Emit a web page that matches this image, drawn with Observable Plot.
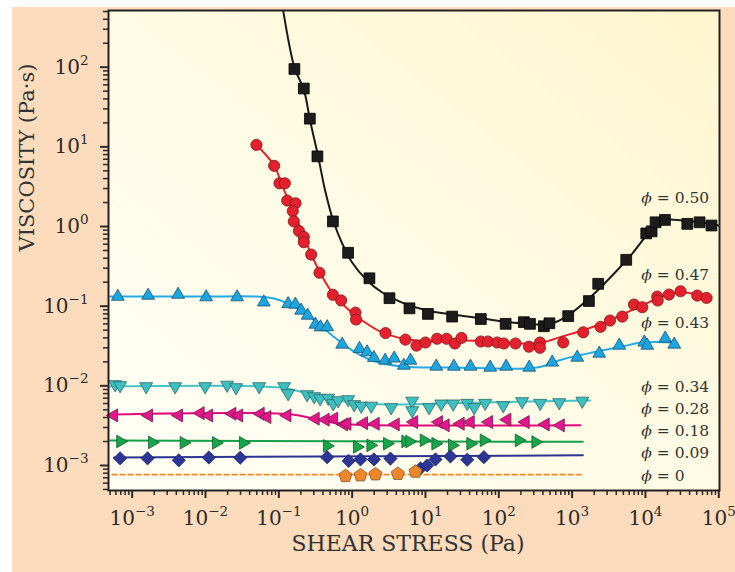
<!DOCTYPE html>
<html><head><meta charset="utf-8">
<script src="https://cdn.jsdelivr.net/npm/d3@7"></script>
<script src="https://cdn.jsdelivr.net/npm/@observablehq/plot@0.6"></script>
<style>
html,body{margin:0;padding:0;background:#fff;}
#wrap{position:relative;width:735px;height:572px;overflow:hidden;}
#peach{position:absolute;left:12px;top:7px;right:0;bottom:0;background:#fcdcbc;}
#chart{position:absolute;left:0;top:0;}
</style></head><body>
<div id="wrap"><div id="peach"></div><div id="chart"></div></div>
<script>
// ---------- data (shear stress in Pa, viscosity in Pa·s) ----------
const stress050 = [0.163,0.219,0.265,0.336,0.546,0.881,1.72,3.23,6.05,10.8,23.1,56.9,124,220,266,412,490,885,1695,2270,5470,10250,12130,13750,18450,37200,54700,79500];
const visc050   = [95,54,22.6,7.6,1.16,0.468,0.224,0.126,0.094,0.080,0.074,0.069,0.060,0.063,0.060,0.056,0.061,0.075,0.116,0.191,0.382,0.82,0.87,1.13,1.21,1.08,1.13,1.03];
const fitStress050 = [0.1075,0.1145,0.162,0.221,0.267,0.344,0.428,0.551,0.731,1.0,1.60,2.57,4.81,10.55,23.1,59.4,152,391,626,1002,1880,3525,6610,10590,14490,19860,31770,59600,100000];
const fitVisc050   = [726,513,101.7,50.8,21.4,7.55,2.83,1.19,0.612,0.353,0.210,0.1486,0.111,0.0883,0.0787,0.0701,0.0624,0.0589,0.0643,0.0834,0.136,0.243,0.458,0.794,1.06,1.22,1.19,1.12,1.03];

const stress047 = [0.0495,0.0863,0.102,0.121,0.130,0.169,0.155,0.160,0.188,0.219,0.219,0.276,0.358,0.546,0.708,1.11,1.13,2.85,5.33,7.54,10.0,14.4,19.4,25.2,31.0,56.9,71.0,95.1,117,169,258,364,364,757,1417,2440,3280,4830,6970,9040,14490,14700,20900,30100,50900,68200];
const visc047   = [10.6,5.78,3.49,3.49,2.12,1.96,1.56,1.16,0.88,0.74,0.635,0.445,0.263,0.139,0.118,0.083,0.068,0.046,0.038,0.032,0.035,0.039,0.039,0.034,0.040,0.036,0.036,0.035,0.034,0.034,0.031,0.035,0.030,0.035,0.047,0.055,0.066,0.074,0.105,0.097,0.132,0.118,0.140,0.154,0.136,0.127];
const fitStress047 = [0.0490,0.0863,0.111,0.152,0.208,0.285,0.390,0.533,0.855,1.37,2.57,4.81,12.3,31.7,81.3,208,391,733,1374,2575,4830,9040,16950,31770,67500];
const fitVisc047   = [10.7,5.82,3.27,1.68,0.841,0.420,0.236,0.149,0.0936,0.0662,0.0468,0.0394,0.0361,0.0371,0.0361,0.0340,0.0350,0.0417,0.0496,0.0607,0.0787,0.102,0.132,0.149,0.132];

const stress043 = [6.36e-4,1.65e-3,4.23e-3,0.0102,0.0270,0.0624,0.134,0.168,0.2015,0.247,0.316,0.370,0.456,0.731,1.26,1.60,1.98,2.82,3.74,5.07,6.24,14.0,24.4,41.1,76.3,126,260,535,1175,2345,4395,9630,10590,18630,24700];
const visc043   = [0.132,0.136,0.140,0.130,0.130,0.112,0.1066,0.105,0.0883,0.0764,0.0589,0.0545,0.0548,0.0331,0.0292,0.0265,0.0225,0.0208,0.0221,0.0180,0.0208,0.0175,0.0175,0.0175,0.0170,0.0175,0.0170,0.0197,0.0227,0.0255,0.0321,0.0351,0.0321,0.0394,0.0331];
const fitStress043 = [4.99e-4,9.0e-3,0.0506,0.0863,0.152,0.285,0.533,1.0,1.87,4.81,23.1,334,733,1880,4830,9040,24700];
const fitVisc043   = [0.132,0.132,0.132,0.125,0.102,0.0701,0.0429,0.0278,0.0208,0.0175,0.0170,0.0170,0.0214,0.0262,0.0312,0.0351,0.0351];

const stress034 = [5.85e-4,6.84e-4,1.55e-3,3.85e-3,9.89e-3,0.0197,0.0261,0.0539,0.118,0.134,0.243,0.303,0.366,0.471,0.551,0.644,0.882,1.065,1.33,1.82,3.41,6.59,6.59,11.2,16.4,23.9,37.1,46.2,65.2,115,208,367,667,1374];
const visc034   = [0.01042,0.01012,0.00983,0.00983,0.00983,0.01026,0.00955,0.00983,0.00983,0.00803,0.00780,0.00736,0.00695,0.00705,0.00601,0.00656,0.00675,0.00585,0.00560,0.00560,0.00536,0.00647,0.00491,0.00536,0.00596,0.00596,0.00607,0.00536,0.00607,0.00568,0.00637,0.00607,0.00619,0.00647];
const fitStress034 = [4.99e-4,0.0592,0.130,0.243,0.533,1.37,4.81,59.4,1750];
const fitVisc034   = [0.00983,0.00983,0.00928,0.00803,0.00675,0.00601,0.00585,0.00619,0.00656];

const stress028 = [5.61e-4,1.68e-3,4.32e-3,8.52e-3,0.0111,0.0231,0.0285,0.0561,0.0692,0.130,0.316,0.432,0.563,0.771,0.855,1.44,2.08,3.90,6.95,15.2,18.7,30.0,41.1,73.2,130,231,433,695];
const visc028   = [0.00425,0.00425,0.00425,0.00454,0.00425,0.00446,0.00425,0.00446,0.00405,0.00425,0.00387,0.00376,0.00387,0.00328,0.00334,0.00340,0.00334,0.00328,0.00351,0.00351,0.00319,0.00334,0.00351,0.00351,0.00376,0.00351,0.00328,0.00319];
const fitStress028 = [4.99e-4,0.152,0.285,0.533,1.0,1290];
const fitVisc028   = [0.00438,0.00438,0.00390,0.00347,0.00328,0.00319];

const stress018 = [6.90e-4,1.87e-3,5.06e-3,0.01395,0.0326,0.456,1.17,1.78,3.00,5.33,6.05,9.51,13.7,23.1,41.1,62.6,188,317];
const visc018   = [0.00200,0.00195,0.00193,0.00192,0.00192,0.00176,0.00171,0.00179,0.00188,0.00200,0.00200,0.00207,0.00188,0.00179,0.00188,0.00207,0.00207,0.00197];
const fitStress018 = [4.99e-4,1400];
const fitVisc018   = [0.00206,0.00198];

const stress009 = [6.84e-4,1.62e-3,4.32e-3,0.0111,0.0297,0.456,0.896,1.30,1.98,3.33,8.55,10.55,13.7,21.9,37.1,62.6];
const visc009   = [0.00123,0.00123,0.00116,0.00126,0.00125,0.00127,0.00114,0.00119,0.00119,0.00122,0.00092,0.00100,0.00119,0.00130,0.00118,0.00127];
const fitStress009 = [5.66e-4,1400];
const fitVisc009   = [0.00126,0.00134];

const stress000 = [0.810,1.30,2.08,4.20,7.31];
const visc000   = [0.000751,0.000767,0.000789,0.000800,0.000851];
const fitStress000 = [5.32e-4,1417];
const fitVisc000   = [0.000767,0.000767];

const labelText = ["\u03D5 = 0.50","\u03D5 = 0.47","\u03D5 = 0.43","\u03D5 = 0.34","\u03D5 = 0.28","\u03D5 = 0.18","\u03D5 = 0.09","\u03D5 = 0"];
const labelViscosity = [2.31,0.243,0.0607,0.00955,0.00506,0.00268,0.00142,0.00073];
const labelStress = [8770,8770,8770,8770,8770,8770,8770,8770];

const xMajorTicks = [1e-3,1e-2,1e-1,1e0,1e1,1e2,1e3,1e4,1e5];
const yMajorTicks = [1e-3,1e-2,1e-1,1e0,1e1,1e2];
const xTitle = "SHEAR STRESS (Pa)";
const yTitle = "VISCOSITY (Pa\u00B7s)";

// ---------- helpers ----------
const pts = (xs, ys) => xs.map((x, i) => ({x, y: ys[i]}));
const minorTicks = (lo, hi) => { const out = []; for (let k = -5; k <= 5; k++) for (let m = 2; m <= 9; m++) { const v = m * Math.pow(10, k); if (v >= lo && v <= hi) out.push(v); } return out; };
const xDomain = [Math.pow(10, -3.323), Math.pow(10, 5.01)];
const yDomain = [Math.pow(10, -3.314), Math.pow(10, 2.712)];

function poly(p, oy = 0) {
  return {draw(c, s) { const r = Math.sqrt(s / Math.PI); p.forEach(([a, b], i) => i ? c.lineTo(a * r, (b + oy) * r) : c.moveTo(a * r, (b + oy) * r)); c.closePath(); }};
}
const sq = {draw(c, s) { const r = Math.sqrt(s / Math.PI); c.rect(-r, -r, 2 * r, 2 * r); }};
const triUp = poly([[0,-1],[0.866,0.5],[-0.866,0.5]]);
const triDown = poly([[0,1],[0.866,-0.5],[-0.866,-0.5]]);
const triLeft = poly([[-1,0],[0.5,-0.866],[0.5,0.866]]);
const triRight = poly([[1,0],[-0.5,-0.866],[-0.5,0.866]]);
const diamond = poly([[0,-1],[1,0],[0,1],[-1,0]]);
const pentagon = poly([0,1,2,3,4].map(k => [Math.cos(-Math.PI/2 + k*2*Math.PI/5), Math.sin(-Math.PI/2 + k*2*Math.PI/5)]), 0.095);

const series = [
  {p: pts(stress050, visc050), f: pts(fitStress050, fitVisc050), line: "#1a1a1a", fill: "#1c1c1c", edge: "#000", sym: sq, r: 5.4},
  {p: pts(stress047, visc047), f: pts(fitStress047, fitVisc047), line: "#e8232d", fill: "#e5202e", edge: "#7a1a1a", sym: "circle", r: 5.6},
  {p: pts(stress043, visc043), f: pts(fitStress043, fitVisc043), line: "#22aae6", fill: "#1ca6df", edge: "#1d4f6f", sym: triUp, r: 7.4},
  {p: pts(stress034, visc034), f: pts(fitStress034, fitVisc034), line: "#46c3c6", fill: "#3ebfc0", edge: "#2f6868", sym: triDown, r: 7.5},
  {p: pts(stress028, visc028), f: pts(fitStress028, fitVisc028), line: "#e5087f", fill: "#e3168c", edge: "#6e1d48", sym: triLeft, r: 7.5},
  {p: pts(stress018, visc018), f: pts(fitStress018, fitVisc018), line: "#12a04a", fill: "#17a54b", edge: "#1b5a32", sym: triRight, r: 7.3},
  {p: pts(stress009, visc009), f: pts(fitStress009, fitVisc009), line: "#2b3493", fill: "#2d3696", edge: "#1c2160", sym: diamond, r: 6.6},
  {p: pts(stress000, visc000), f: pts(fitStress000, fitVisc000), line: "#f28a27", fill: "#f0862a", edge: "#7a5a3a", sym: pentagon, r: 6.9, dash: "5,3"}
];

const supFmt = d => "10^" + Math.round(Math.log10(d));

const marks = [Plot.frame({fill: "url(#bggrad)", stroke: "none"})];
series.forEach(s => marks.push(Plot.line(s.f, {x: "x", y: "y", stroke: s.line, strokeWidth: s.dash ? 1.6 : 2, strokeDasharray: s.dash, curve: "catmull-rom", clip: true})));
series.forEach(s => marks.push(Plot.dot(s.p, {x: "x", y: "y", symbol: s.sym, r: s.r, fill: s.fill, stroke: s.edge, strokeWidth: 0.8})));
marks.push(
  Plot.text(labelText, {x: (d, i) => labelStress[i], y: (d, i) => labelViscosity[i], text: d => d, textAnchor: "start", fontSize: 15.5, fill: "#333"}),
  Plot.axisX({ticks: minorTicks(xDomain[0], xDomain[1]), tickSize: 5, strokeWidth: 1.5, tickFormat: () => "", label: null}),
  Plot.axisX({ticks: xMajorTicks, tickSize: 8, tickPadding: 12, strokeWidth: 2, tickFormat: supFmt, label: null, fontSize: 20}),
  Plot.axisY({ticks: minorTicks(yDomain[0], yDomain[1]), tickSize: 5, strokeWidth: 1.5, tickFormat: () => "", label: null}),
  Plot.axisY({ticks: yMajorTicks, tickSize: 8, tickPadding: 12, strokeWidth: 2, tickFormat: supFmt, label: null, fontSize: 20}),
  Plot.text([xTitle], {frameAnchor: "bottom", dy: 60, dx: -6, text: d => d, fontSize: 22, fill: "#333"}),
  Plot.text([yTitle], {frameAnchor: "left", dx: -81, dy: 1, rotate: -90, text: d => d, fontSize: 21, fill: "#333"}),
  Plot.frame({stroke: "#222", strokeWidth: 2})
);

const plot = Plot.plot({
  width: 735, height: 572,
  marginLeft: 108, marginRight: 16, marginTop: 10, marginBottom: 82,
  style: {background: "transparent", fontFamily: "'DejaVu Serif', serif", fontSize: "20px", color: "#2a2a2a", overflow: "visible"},
  x: {type: "log", domain: xDomain, axis: null},
  y: {type: "log", domain: yDomain, axis: null},
  marks
});
document.getElementById("chart").appendChild(plot);

// ---------- post-processing: gradient, superscripts, italic phi ----------
const svg = plot.tagName.toLowerCase() === "svg" ? plot : plot.querySelector("svg");
const NS = "http://www.w3.org/2000/svg";
const defs = d3.select(svg).insert("defs", ":first-child");
const grad = defs.append("linearGradient").attr("id", "bggrad").attr("x1", 0).attr("y1", 1).attr("x2", 1).attr("y2", 0);
grad.append("stop").attr("offset", 0).attr("stop-color", "#fffff6");
grad.append("stop").attr("offset", 0.5).attr("stop-color", "#fffbe4");
grad.append("stop").attr("offset", 1).attr("stop-color", "#fff5cf");

svg.querySelectorAll("text").forEach(t => {
  const s = t.textContent;
  if (s.startsWith("10^")) {
    const e = s.slice(3).replace("-", "\u2212");
    t.textContent = "10";
    const ts = document.createElementNS(NS, "tspan");
    ts.setAttribute("font-size", "13.5");
    ts.setAttribute("dy", "-9");
    ts.textContent = e;
    t.appendChild(ts);
  } else if (s.startsWith("\u03D5")) {
    t.textContent = "";
    const ph = document.createElementNS(NS, "tspan");
    ph.setAttribute("font-style", "italic");
    ph.textContent = "\u03D5";
    t.appendChild(ph);
    t.appendChild(document.createTextNode(s.slice(1)));
  }
});
</script>
</body></html>
